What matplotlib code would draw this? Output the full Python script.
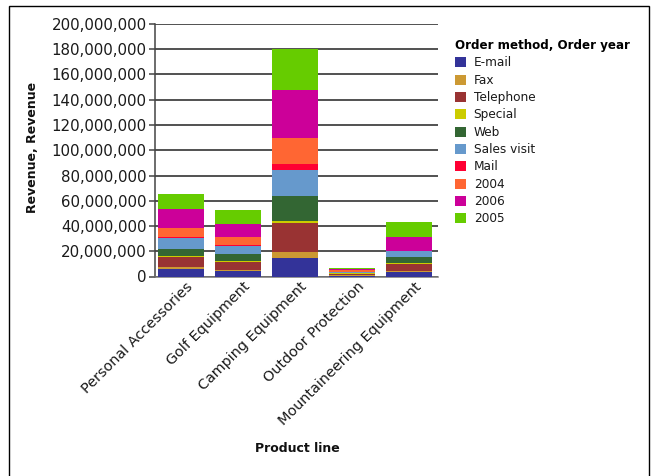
import matplotlib
matplotlib.use("Agg")
import matplotlib.pyplot as plt
import matplotlib.transforms as mtransforms
from matplotlib.patches import Patch, Rectangle
from matplotlib.ticker import FuncFormatter, MultipleLocator
import numpy as np

plt.rcParams['font.family'] = ['DejaVu Sans']

# Product lines on the x axis
product_lines = ["Personal Accessories", "Golf Equipment", "Camping Equipment",
                 "Outdoor Protection", "Mountaineering Equipment"]

# Stack order (bottom to top) and colours
series_names = ["E-mail", "Fax", "Telephone", "Special", "Web",
                "Sales visit", "Mail", "2004", "2006", "2005"]
series_colors = ["#333399", "#CC9933", "#993333", "#CCCC00", "#336633",
                 "#6699CC", "#FF0033", "#FF6633", "#CC0099", "#66CC00"]

# Revenue per segment, in millions
email       = [5.7, 4.0, 14.4, 0.3, 3.3]
fax         = [1.6, 1.2, 4.8, 1.2, 1.3]
telephone   = [7.9, 6.5, 23.5, 0.6, 5.6]
special     = [1.0, 0.3, 1.3, 0.6, 0.2]
web         = [5.8, 6.0, 20.1, 0.3, 4.8]
sales_visit = [8.3, 6.3, 20.4, 0.5, 5.0]
mail        = [0.8, 0.8, 4.8, 0.1, 0.0]
y2004       = [7.7, 6.5, 20.7, 1.2, 0.0]
y2006       = [14.6, 10.1, 38.0, 1.0, 11.4]
y2005       = [11.6, 11.3, 32.3, 1.2, 11.4]

series_values = [email, fax, telephone, special, web,
                 sales_visit, mail, y2004, y2006, y2005]

W, H = 656, 476
fig = plt.figure(figsize=(W / 100, H / 100), dpi=100)
ax = fig.add_axes([155 / W, 1 - 276.5 / H, (438 - 155) / W, (276.5 - 24) / H])

x = np.arange(len(product_lines))
bottom = np.zeros(len(product_lines))
for name, vals, col in zip(series_names, series_values, series_colors):
    v = np.array(vals) * 1e6
    ax.bar(x, v, width=0.81, bottom=bottom, color=col, linewidth=0, zorder=3)
    bottom += v

ax.set_xlim(-0.45, 4.51)
ax.set_ylim(0, 200e6)
ax.yaxis.set_major_locator(MultipleLocator(20e6))
ax.yaxis.set_major_formatter(FuncFormatter(lambda v, p: f"{v:,.0f}"))
ax.grid(axis='y', color='#222222', linewidth=1.1, zorder=1)
ax.set_axisbelow(True)

for s in ("top", "right"):
    ax.spines[s].set_visible(False)
ax.spines["left"].set_color("#444444")
ax.spines["left"].set_linewidth(1.1)
ax.spines["bottom"].set_color("#777777")
ax.spines["bottom"].set_linewidth(1.1)

ax.tick_params(axis='y', direction='out', length=4, width=1.1, color='#444444',
               labelsize=10.8, labelcolor='#1a1a1a', pad=2)
ax.tick_params(axis='x', length=0, labelsize=10.4, labelcolor='#1a1a1a', pad=0)

ax.set_xticks(x)
ax.set_xticklabels(product_lines, rotation=45, ha='right', va='top',
                   rotation_mode='anchor')
shift = mtransforms.ScaledTranslation(5 / 100, -3 / 100, fig.dpi_scale_trans)
for lbl in ax.get_xticklabels():
    lbl.set_transform(lbl.get_transform() + shift)

fig.text(297 / W, 1 - 448 / H, "Product line", ha='center', va='center',
         fontsize=9, fontweight='bold', color='#111111')
fig.text(33 / W, 1 - 147 / H, "Revenue, Revenue", ha='center', va='center',
         rotation=90, fontsize=9, fontweight='bold', color='#111111')

handles = [Patch(facecolor=c, edgecolor='none') for c in series_colors]
leg = fig.legend(handles, series_names, loc='upper left',
                 bbox_to_anchor=(455 / W, 1 - 39 / H), frameon=False,
                 title="Order method, Order year", alignment='left',
                 fontsize=8.7, handlelength=0.9, handleheight=0.9,
                 handletextpad=0.65, labelspacing=0.36, borderpad=0,
                 borderaxespad=0)
leg.get_title().set_fontweight('bold')
leg.get_title().set_fontsize(8.6)
for t in leg.get_texts():
    t.set_color('#1a1a1a')

# Outer frame
fig.patches.append(Rectangle((8.5 / W, -0.05), (648.5 - 8.5) / W, 1.05 - 6.5 / H,
                             transform=fig.transFigure, fill=False,
                             edgecolor='black', linewidth=1.0))

fig.savefig("out.png", dpi=100)
